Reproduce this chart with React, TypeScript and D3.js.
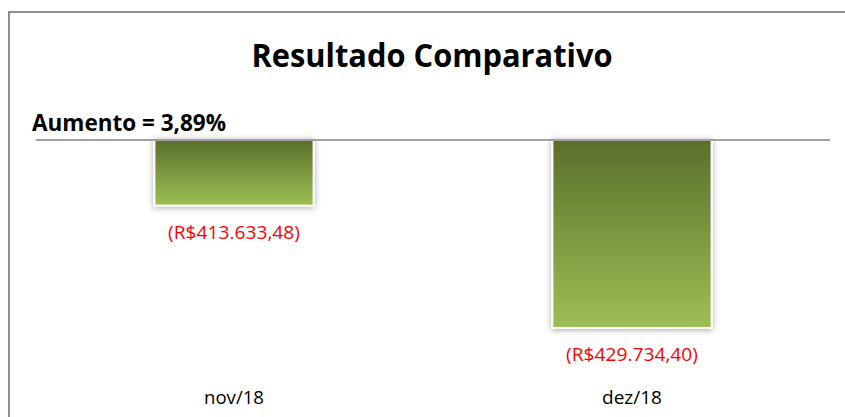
import React from "react";
import { scaleBand, scaleLinear } from "d3";

const categories = ["nov/18", "dez/18"];
const values = [-413633.48, -429734.4];
const valueLabels = ["(R$413.633,48)", "(R$429.734,40)"];
const title = "Resultado Comparativo";
const subtitle = "Aumento = 3,89%";

const W = 845;
const H = 417;
const plotTop = 140;
const plotBottom = 368;

const App = () => {
  const x = scaleBand<string>()
    .domain(categories)
    .range([35, 831])
    .paddingInner(0.6)
    .paddingOuter(0.3);

  // excel style axis: max -405.000, min -435.000, bars hang down from the top line
  const y = scaleLinear().domain([-405000, -435000]).range([plotTop, plotBottom]);

  const font = "'Open Sans', 'DejaVu Sans', sans-serif";

  return (
    <svg
      width={W}
      height={H}
      style={{ position: "absolute", left: 0, top: 0, background: "#fff" }}
    >
      <defs>
        <linearGradient id="barGrad" x1="0" y1="0" x2="0" y2="1">
          <stop offset="0%" stopColor="#5a6f2b" />
          <stop offset="100%" stopColor="#9dbf55" />
        </linearGradient>
        <filter id="shadow" x="-20%" y="-20%" width="140%" height="140%">
          <feDropShadow dx="0" dy="1" stdDeviation="3" floodColor="#000" floodOpacity="0.35" />
        </filter>
      </defs>

      {/* chart frame */}
      <rect x={9} y={12} width={900} height={500} fill="none" stroke="#8e8e8e" strokeWidth={2} />

      <text
        x={432}
        y={67}
        textAnchor="middle"
        fontFamily={font}
        fontWeight="bold"
        fontSize={33}
        textLength={361}
        lengthAdjust="spacingAndGlyphs"
        fill="#000"
      >
        {title}
      </text>

      <text
        x={32}
        y={131}
        fontFamily={font}
        fontWeight="bold"
        fontSize={23}
        textLength={194}
        lengthAdjust="spacingAndGlyphs"
        fill="#000"
      >
        {subtitle}
      </text>

      {categories.map((c, i) => {
        const bx = x(c)!;
        const bw = x.bandwidth();
        const y0 = y(-405000);
        const y1 = y(values[i]);
        const cx = bx + bw / 2;
        return (
          <g key={c}>
            <rect
              x={bx}
              y={y0}
              width={bw}
              height={y1 - y0}
              fill="url(#barGrad)"
              stroke="#fff"
              strokeWidth={2}
              filter="url(#shadow)"
            />
            <text
              x={cx}
              y={y1 + 33}
              textAnchor="middle"
              fontFamily={font}
              fontSize={18}
              textLength={132}
              lengthAdjust="spacingAndGlyphs"
              fill="#ff0000"
            >
              {valueLabels[i]}
            </text>
            <text
              x={cx}
              y={404}
              textAnchor="middle"
              fontFamily={font}
              fontSize={19}
              textLength={60}
              lengthAdjust="spacingAndGlyphs"
              fill="#000"
            >
              {c}
            </text>
          </g>
        );
      })}

      {/* category axis line at the top of the plot */}
      <line x1={36} x2={830} y1={plotTop} y2={plotTop} stroke="#a0a0a0" strokeWidth={2} />
    </svg>
  );
};

export default App;
